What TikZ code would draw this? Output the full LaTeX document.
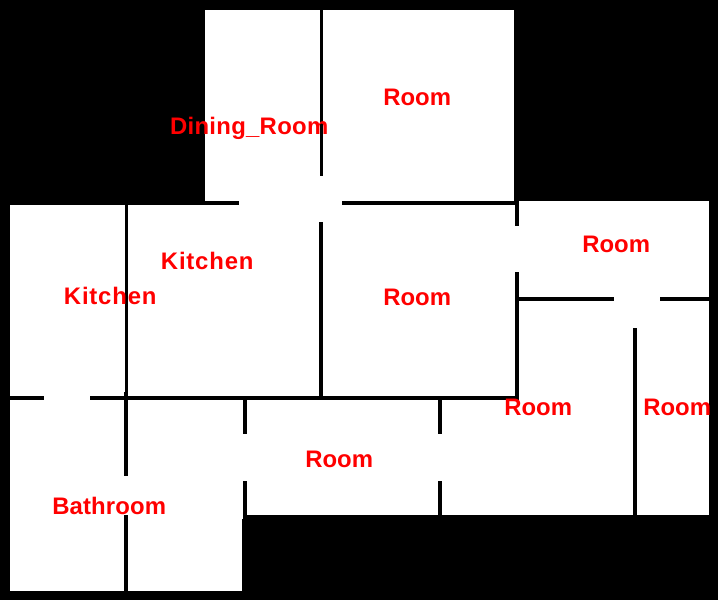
\documentclass[tikz,border=0pt]{standalone}
\usepackage{fontspec}
\setmainfont{Liberation Sans}[BoldFont={Liberation Sans Bold}]
\tikzset{
  floor/.style={fill=white,draw=none},
  wall/.style={fill=black,draw=none},
  label/.style={text=red,font=\fontsize{23.9}{26}\selectfont\bfseries,anchor=base,inner sep=0pt},
}
\begin{document}
\begin{tikzpicture}[x=1pt,y=-1pt]
\useasboundingbox (0,0) rectangle (718,600);
\fill[black] (0,0) rectangle (718,600);
% floor
\path[floor] (205,10) rectangle (514,205);
\path[floor] (514,201) rectangle (519,226);
\path[floor] (10,205) rectangle (519,400);
\path[floor] (517,201) rectangle (709,515);
\path[floor] (10,400) rectangle (243,519);
\path[floor] (243,400) rectangle (519,515);
\path[floor] (10,515) rectangle (242,591);
% horizontal walls
\path[wall] (205,201) rectangle (239,205);
\path[wall] (342,201) rectangle (516,205);
\path[wall] (10,396) rectangle (44,400);
\path[wall] (90,396) rectangle (517,400);
\path[wall] (519,297) rectangle (614,301);
\path[wall] (660,297) rectangle (709,301);
% vertical walls
\path[wall] (320,10) rectangle (323,176);
\path[wall] (319,222) rectangle (323,396);
\path[wall] (515,197) rectangle (519,226);
\path[wall] (515,272) rectangle (519,400);
\path[wall] (633,328) rectangle (637,515);
\path[wall] (125,205) rectangle (128,396);
\path[wall] (124,392) rectangle (128,476);
\path[wall] (124,515) rectangle (128,591);
\path[wall] (243,400) rectangle (247,434);
\path[wall] (243,481) rectangle (247,519);
\path[wall] (438,400) rectangle (442,434);
\path[wall] (438,481) rectangle (442,515);
% labels
\node[label] (room1) at (417.2,105) {Room};
\node[label] (room2) at (417.2,305) {Room};
\node[label] (room3) at (616.2,252) {Room};
\node[label] (room4) at (538.2,415) {Room};
\node[label] (room5) at (677.2,415) {Room};
\node[label] (room6) at (339.2,467) {Room};
\node[label] (kitchen1) at (207.2,269) {\addfontfeature{LetterSpace=3.4}Kitchen};
\node[label] (kitchen2) at (110.2,304) {\addfontfeature{LetterSpace=3.4}Kitchen};
\node[label] (bath) at (109.2,514) {\addfontfeature{LetterSpace=0.6}Bathroom};
\node[label] (dining) at (249.2,134) {\addfontfeature{LetterSpace=1.2}Dining\textunderscore Room};
\end{tikzpicture}
\end{document}
